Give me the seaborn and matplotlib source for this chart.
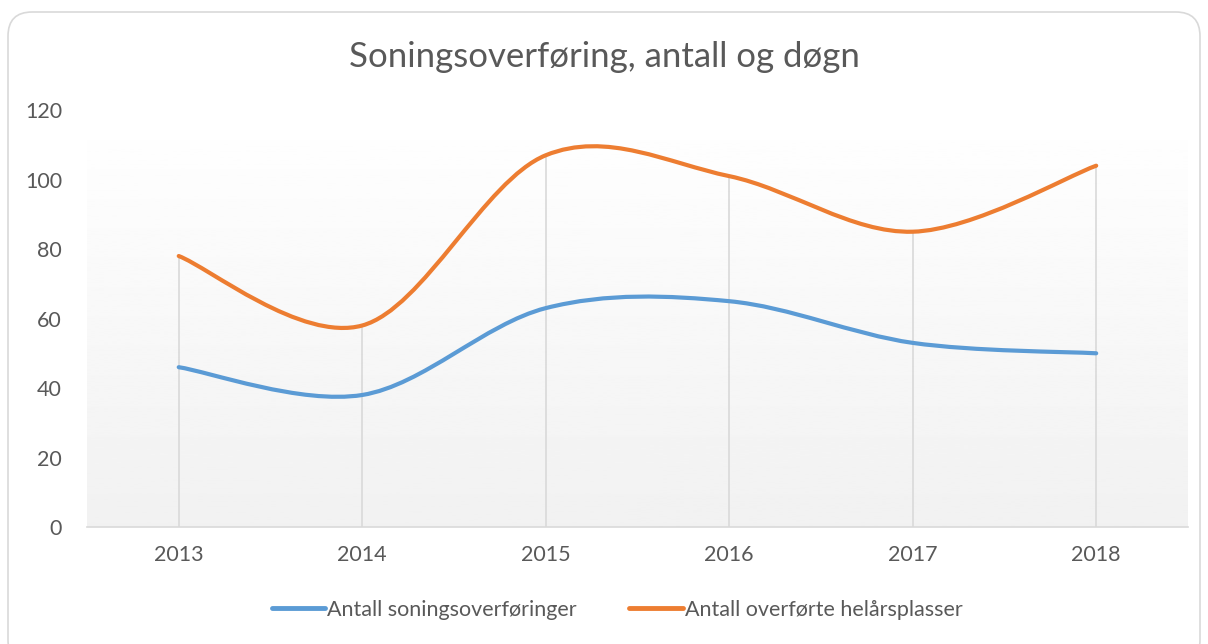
import matplotlib.pyplot as plt
import matplotlib.patches as mpatches
from matplotlib.path import Path
import pandas as pd
import seaborn as sns
import numpy as np

years = [2013, 2014, 2015, 2016, 2017, 2018]
soningsoverforinger = [46, 38, 63, 65, 53, 50]
helarsplasser = [78, 58, 107, 101, 85, 104]
series_names = ["Antall soningsoverføringer", "Antall overførte helårsplasser"]
colors = ["#5b9bd5", "#ed7d31"]

df = pd.DataFrame({
    "year": years * 2,
    "value": soningsoverforinger + helarsplasser,
    "series": [series_names[0]] * len(years) + [series_names[1]] * len(years),
})

sns.set_style("white")
plt.rcParams["font.family"] = ["Lato", "DejaVu Sans"]

fig = plt.figure(figsize=(12.08, 6.44), dpi=100)
ax = fig.add_axes([0.072, 0.1817, 0.9114, 0.6473])

# rounded chart border
border = mpatches.FancyBboxPatch((8 / 1208, -20 / 644), 1192 / 1208, 652 / 644,
                                 boxstyle="round,pad=0,rounding_size=0.02",
                                 transform=fig.transFigure, fc="white", ec="#d9d9d9",
                                 lw=1.2, zorder=-10, mutation_aspect=1208 / 644)
fig.patches.append(border)

# gradient plot area
grad = np.linspace(0.945, 1.0, 256).reshape(-1, 1)
ax.imshow(grad, cmap="gray", vmin=0, vmax=1, aspect="auto", origin="lower",
          extent=(2012.5, 2018.5, 0, 120), zorder=0)

sns.lineplot(data=df, x="year", y="value", hue="series", palette=colors,
             linewidth=3, ax=ax, zorder=3)


def smooth_path(xs, ys):
    # Excel-like smoothed line: cubic bezier through points
    pts = np.column_stack([xs, ys]).astype(float)
    verts = [pts[0]]
    codes = [Path.MOVETO]
    n = len(pts)
    for i in range(n - 1):
        p0 = pts[max(i - 1, 0)]
        p1 = pts[i]
        p2 = pts[i + 1]
        p3 = pts[min(i + 2, n - 1)]
        c1 = p1 + (p2 - p0) / 6
        c2 = p2 - (p3 - p1) / 6
        verts += [c1, c2, p2]
        codes += [Path.CURVE4] * 3
    return Path(verts, codes)


for line, c in zip(ax.lines[:2], colors):
    xd, yd = line.get_xdata(), line.get_ydata()
    line.set_visible(False)
    patch = mpatches.PathPatch(smooth_path(xd, yd), fc="none", ec=c, lw=3,
                               capstyle="round", zorder=3)
    ax.add_patch(patch)

# drop lines
tops = np.maximum(soningsoverforinger, helarsplasser)
ax.vlines(years, 0, tops, color="#d9d9d9", lw=1.2, zorder=1)

ax.set_xlim(2012.5, 2018.5)
ax.set_ylim(0, 120)
ax.set_xticks(years)
ax.set_xticklabels([str(y) for y in years])
ax.set_yticks(range(0, 121, 20))
ax.tick_params(axis="both", length=0, labelsize=15.5, colors="#595959")
ax.tick_params(axis="x", pad=13)
ax.tick_params(axis="y", pad=18)
for s in ["top", "right", "left"]:
    ax.spines[s].set_visible(False)
ax.spines["bottom"].set_color("#d9d9d9")
ax.spines["bottom"].set_linewidth(1.2)
ax.set_xlabel("")
ax.set_ylabel("")

fig.text(0.5, 1 - 57 / 644, "Soningsoverføring, antall og døgn", ha="center", va="center",
         fontsize=25, color="#595959")

leg = ax.legend(handles=[plt.Line2D([], [], color=c, lw=3.5) for c in colors],
                labels=series_names, loc="center", bbox_to_anchor=(617 / 1208, 1 - 610 / 644),
                bbox_transform=fig.transFigure, ncol=2, frameon=False, fontsize=15.5,
                handlelength=2.5, handletextpad=0.1, columnspacing=2.4)
for t in leg.get_texts():
    t.set_color("#595959")

fig.savefig("out.png", dpi=100)
